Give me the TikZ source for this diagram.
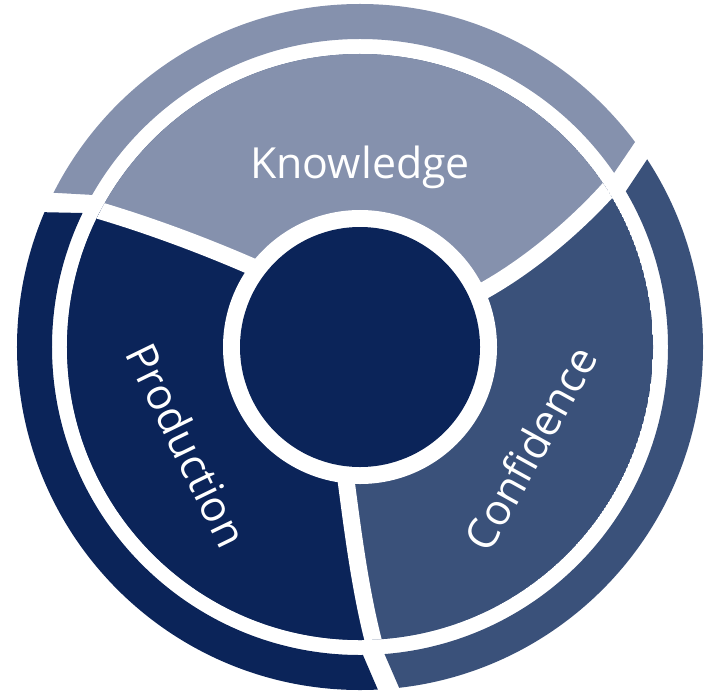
\documentclass[tikz,border=0pt]{standalone}
\usepackage{fontspec}
\setmainfont{Open Sans}
\definecolor{klight}{HTML}{8591AD}
\definecolor{cmid}{HTML}{3A517A}
\definecolor{pnavy}{HTML}{0B2459}
\tikzset{
  divider/.style={white, line width=17bp},
  label/.style={white, font=\fontsize{43}{43}\selectfont, inner sep=0pt}
}
\begin{document}
\begin{tikzpicture}[x=1bp,y=-1bp]
\useasboundingbox (0,0) rectangle (711,694);
\coordinate (C) at (360,347);
% divider centre lines (inner end, controls, outer end)
\coordinate (a0) at (290,284); \coordinate (a1) at (215,248);
\coordinate (a2) at (117,212); \coordinate (a3) at (40,195);
\coordinate (b0) at (470,298); \coordinate (b1) at (530,268);
\coordinate (b2) at (590,214); \coordinate (b3) at (625,170);
\coordinate (c0) at (342,450); \coordinate (c1) at (351.5,519);
\coordinate (c2) at (360,601.5); \coordinate (c3) at (381,668);
% ---------- outer ring ----------
\begin{scope}
  \clip (C) -- (130,197) -- (-50,187) -- (-50,-60) -- (677,-60) -- (677,80) -- (593,204) -- cycle;
  \fill[klight, even odd rule] (C) circle[radius=343bp] (C) circle[radius=308bp];
\end{scope}
\begin{scope}
  \clip (C) -- (604,224) -- (692,92) -- (760,92) -- (760,760) -- (424,745) -- (368,616) -- cycle;
  \fill[cmid, even odd rule] (C) circle[radius=343bp] (C) circle[radius=308bp];
\end{scope}
\begin{scope}
  \clip (C) -- (347,618) -- (403,748) -- (-60,760) -- (-60,210) -- (130,214) -- cycle;
  \fill[pnavy, even odd rule] (C) circle[radius=343bp] (C) circle[radius=308bp];
\end{scope}
% ---------- middle ring ----------
\begin{scope}
  \clip (C) circle[radius=293bp];
  \fill[cmid] (C) circle[radius=293bp];
  \fill[klight] (C) -- (a0) .. controls (a1) and (a2) .. (a3) -- (-60,-60) -- (760,-60)
     -- (b3) .. controls (b2) and (b1) .. (b0) -- cycle;
  \fill[pnavy] (C) -- (a0) .. controls (a1) and (a2) .. (a3) -- (-60,195) -- (-60,760) -- (400,760)
     -- (c3) .. controls (c2) and (c1) .. (c0) -- cycle;
  \draw[divider] (a0) .. controls (a1) and (a2) .. (a3);
  \draw[divider] (b0) .. controls (b1) and (b2) .. (b3);
  \draw[divider] (c0) .. controls (c1) and (c2) .. (c3);
\end{scope}
% ---------- centre ----------
\fill[white] (C) circle[radius=137bp];
\node[circle, fill=pnavy, minimum size=240bp, inner sep=0pt] (hub) at (C) {};
% ---------- labels ----------
\node[label, anchor=base] (know) at (360,178) {Knowledge};
\node[label, rotate=-64] (prod) at (187,445) {Production};
\node[label, rotate=61] (conf) at (530,448) {Confidence};
\end{tikzpicture}
\end{document}
